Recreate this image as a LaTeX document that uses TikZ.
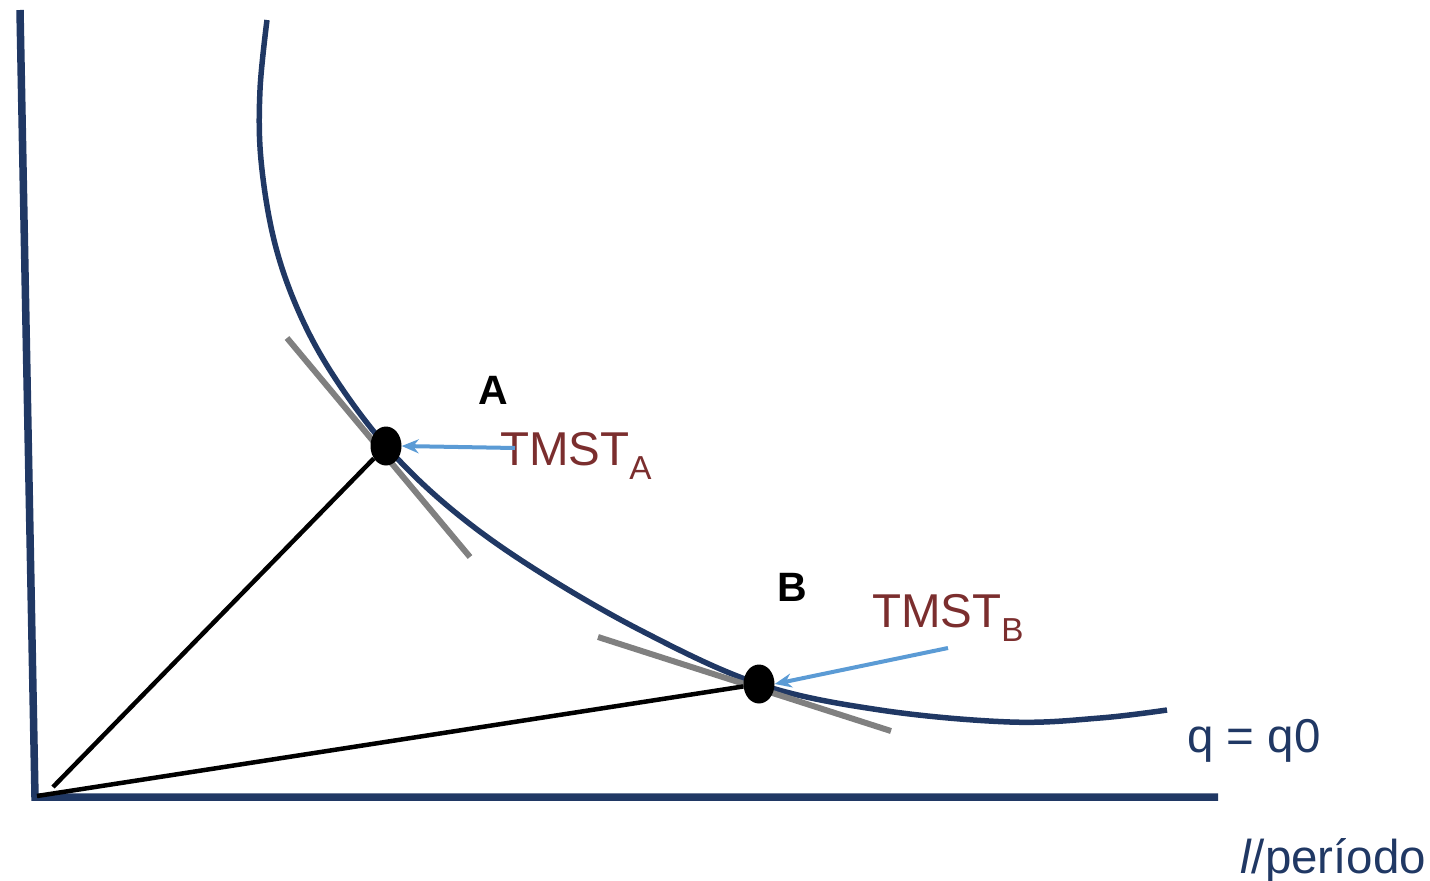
\documentclass[tikz,border=0pt]{standalone}
\usepackage{fontspec}
\setmainfont{Liberation Sans}
\usetikzlibrary{arrows.meta,shapes.geometric}
\definecolor{navy}{HTML}{203864}
\definecolor{tgray}{HTML}{808080}
\definecolor{arrblue}{HTML}{5B9BD5}
\definecolor{tmred}{HTML}{7B2E2E}
\begin{document}
\begin{tikzpicture}[x=1pt,y=-1pt,
  axisline/.style={draw=navy,line width=7.5pt},
  curveline/.style={draw=navy,line width=5.5pt},
  tanline/.style={draw=tgray,line width=6pt},
  rayline/.style={draw=black,line width=4.5pt},
  ptdot/.style={fill=black,ellipse,minimum width=31pt,minimum height=39pt,inner sep=0pt},
  callout/.style={draw=arrblue,line width=4pt,-{Stealth[length=17pt,width=14pt]}},
  tmlab/.style={text=tmred,font=\fontsize{47.5}{54}\selectfont,inner sep=0pt},
  ptlab/.style={font=\fontsize{41}{46}\selectfont\bfseries,inner sep=0pt},
  navylab/.style={text=navy,font=\fontsize{47.5}{54}\selectfont,inner sep=0pt}]
\useasboundingbox (0,0) rectangle (1430,881);
% axes
\coordinate (top) at (20,10);
\coordinate (orig) at (35,797);
\coordinate (xend) at (1218,797);
\draw[axisline] (top) -- (orig) -- (xend);
% curve
\draw[curveline] plot[smooth,tension=0.6] coordinates {(267,20) (260,90) (261,160) (274,240) (298,310) (333,375) (386,446) (450,508) (530,566) (640,630) (759,684) (880,710) (1010,722) (1100,718) (1167,710)};
% tangents
\coordinate (ta1) at (287,338); \coordinate (ta2) at (470,557);
\coordinate (tb1) at (598,637); \coordinate (tb2) at (891,731);
\draw[tanline] (ta1) -- (ta2);
\draw[tanline] (tb1) -- (tb2);
% points
\path (386,446) node[ptdot] (A) {};
\path (759,684) node[ptdot] (B) {};
% rays
\coordinate (ra) at (53,787);
\coordinate (rb) at (37,796);
\draw[rayline] (ra) -- (A);
\draw[rayline] (rb) -- (B);
% labels
\node[ptlab] (lA) at (493,390) {A};
\node[ptlab] (lB) at (792,587) {B};
\node[tmlab,anchor=base west] (tA) at (500,465) {TMST\textsubscript{A}};
\node[tmlab,anchor=base west] (tB) at (872,627) {TMST\textsubscript{B}};
\coordinate (ca) at (515,448);
\coordinate (cb) at (948,648);
\draw[callout] (ca) -- (A.east);
\draw[callout] (cb) -- (B.east);
\node[navylab,anchor=base west] (q) at (1187,752) {q = q0};
\node[navylab,anchor=base west] (lp) at (1240,873) {\textit{l}/período};
\end{tikzpicture}
\end{document}
